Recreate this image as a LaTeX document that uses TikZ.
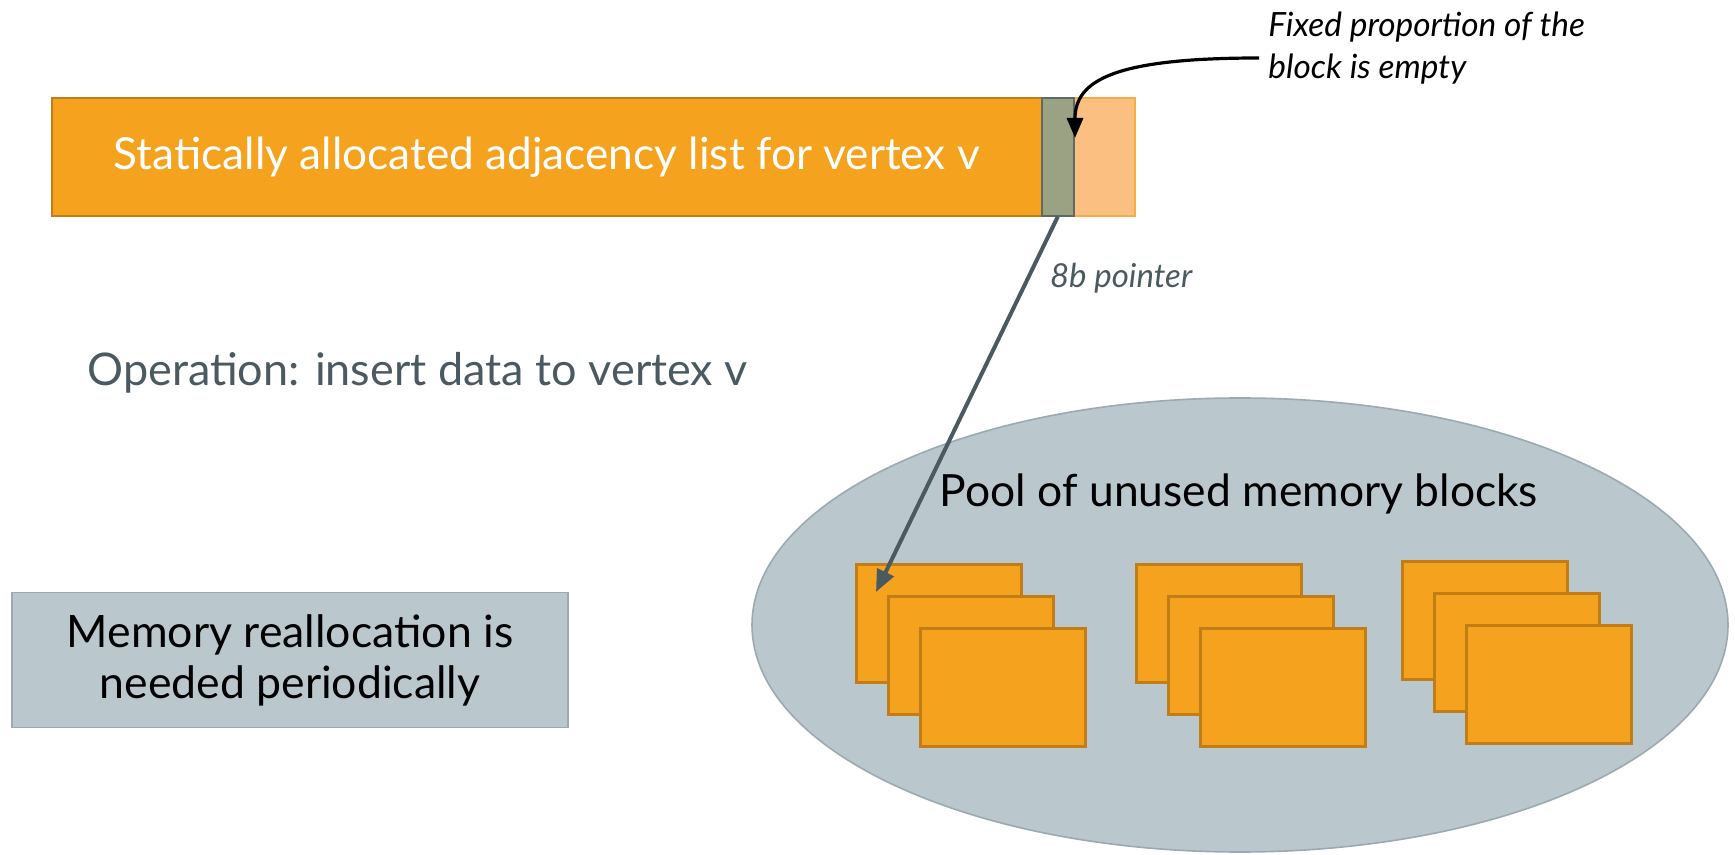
\documentclass[tikz,border=0pt]{standalone}
\usepackage{fontspec}
\setmainfont{Lato}
\usetikzlibrary{arrows.meta,shapes.geometric}
\definecolor{orangeA}{HTML}{F5A31E}
\definecolor{orangeB}{HTML}{C27E16}
\definecolor{lightA}{HTML}{FCBF82}
\definecolor{lightB}{HTML}{F6AC45}
\definecolor{greenA}{HTML}{9BA283}
\definecolor{greenB}{HTML}{5F6A67}
\definecolor{poolA}{HTML}{BAC8CD}
\definecolor{poolB}{HTML}{9AAAB0}
\definecolor{slate}{HTML}{4B5A61}
\tikzset{
  blk/.style={draw=orangeB, fill=orangeA, line width=1.3pt, minimum width=82.5pt, minimum height=59pt, anchor=north west, inner sep=0pt},
  barseg/.style={anchor=north west, inner sep=0pt, minimum height=59pt, line width=0.8pt},
  ptr/.style={draw=slate, line width=2pt, -{Triangle[length=11pt,width=9pt]}},
  callarrow/.style={draw=black, line width=1.6pt, -{Triangle[length=10pt,width=8pt]}},
}
\begin{document}
\begin{tikzpicture}[x=0.5pt,y=-0.5pt]
\useasboundingbox (0,0) rectangle (1735,855);
% pool
\node[ellipse, draw=poolB, fill=poolA, line width=0.8pt, minimum width=488pt, minimum height=227pt, inner sep=0pt] (pool) at (1240,625) {};
\node[font=\fontsize{22.2}{26}\selectfont] (pooltxt) at (1239,494) {Pool of unused memory blocks};
% blocks
\node[blk] (b11) at (855,563) {};
\node[blk] (b12) at (887,595) {};
\node[blk] (b13) at (919,627) {};
\node[blk] (b21) at (1135,563) {};
\node[blk] (b22) at (1167,595) {};
\node[blk] (b23) at (1199,627) {};
\node[blk] (b31) at (1401,560) {};
\node[blk] (b32) at (1433,592) {};
\node[blk] (b33) at (1465,624) {};
% bar
\node[barseg, draw=lightB, fill=lightA, minimum width=30.5pt] (light) at (1073,97) {};
\node[barseg, draw=orangeB, fill=orangeA, minimum width=495pt, text=white, font=\fontsize{22.1}{26}\selectfont] (bar) at (51,97) {Statically allocated adjacency list for vertex v};
\node[barseg, draw=greenB, fill=greenA, minimum width=16pt] (green) at (1041,97) {};
% callout
\node[anchor=north west, align=left, inner sep=0pt, font=\fontsize{16.7}{21}\selectfont\itshape] (call) at (1268,12) {Fixed proportion of the\\block is empty};
\coordinate (cstart) at (1259,58);
\coordinate (cend) at (1075,138);
\draw[callarrow] (cstart) .. controls (1115,58) and (1075,80) .. (cend);
% pointer
\coordinate (pend) at (876,592);
\draw[ptr] (green.south) -- (pend);
\node[anchor=west, text=slate, font=\fontsize{16.5}{19}\selectfont\itshape] (ptrlbl) at (1043,278) {8b pointer};
% operation
\node[anchor=west, text=slate, font=\fontsize{22.5}{26}\selectfont, inner sep=0pt] (op) at (87,373) {Operation: insert data to vertex v};
% memory box
\node[draw=poolB, fill=poolA, line width=0.8pt, minimum width=278pt, minimum height=67.5pt, align=center, font=\fontsize{22.3}{25.5}\selectfont] (mem) at (290,660) {Memory reallocation is\\needed periodically};
\end{tikzpicture}
\end{document}
